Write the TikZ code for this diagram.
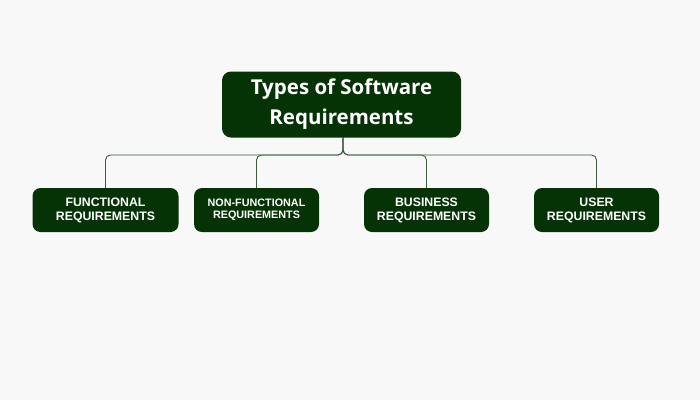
\documentclass[tikz,border=0pt]{standalone}
\usepackage{fontspec}
\setmainfont{Liberation Sans}
\newfontfamily\titlefont{Open Sans}
\definecolor{bg}{HTML}{F8F8F8}
\definecolor{boxgreen}{HTML}{053305}
\definecolor{linegreen}{HTML}{3C5A3C}
\begin{document}
\begin{tikzpicture}[x=1pt,y=-1pt,
  mainbox/.style={fill=boxgreen, rounded corners=9pt, minimum width=239pt, minimum height=66pt, inner sep=0pt, text=white, align=center},
  childbox/.style={fill=boxgreen, rounded corners=8pt, minimum width=146pt, minimum height=44pt, inner sep=0pt, text=white, align=center, font=\bfseries\fontsize{12.3}{14}\selectfont},
  smallbox/.style={childbox, minimum width=125pt},
  conn/.style={draw=linegreen, line width=0.9pt, rounded corners=5pt}]
\fill[bg] (0,0) rectangle (700,400);
\useasboundingbox (0,0) rectangle (700,400);
\node[mainbox, font=\titlefont\bfseries\fontsize{20.5}{30}\selectfont] (main) at (341.5,104.5) {Types of Software\\Requirements};
\node[childbox] (c1) at (105.5,210) {FUNCTIONAL\\REQUIREMENTS};
\node[smallbox, font=\bfseries\fontsize{10.8}{12}\selectfont] (c2) at (256.5,210) {NON-FUNCTIONAL\\REQUIREMENTS};
\node[smallbox] (c3) at (426.5,210) {BUSINESS\\REQUIREMENTS};
\node[smallbox] (c4) at (596.5,210) {USER\\REQUIREMENTS};
\coordinate (bus) at (343,155);
\coordinate (top) at (343,137);
\foreach \c in {c1,c2,c3,c4}{
  \draw[conn] (top) -- (top |- bus) -- (\c.north |- bus) -- (\c.north);
}
\end{tikzpicture}
\end{document}
